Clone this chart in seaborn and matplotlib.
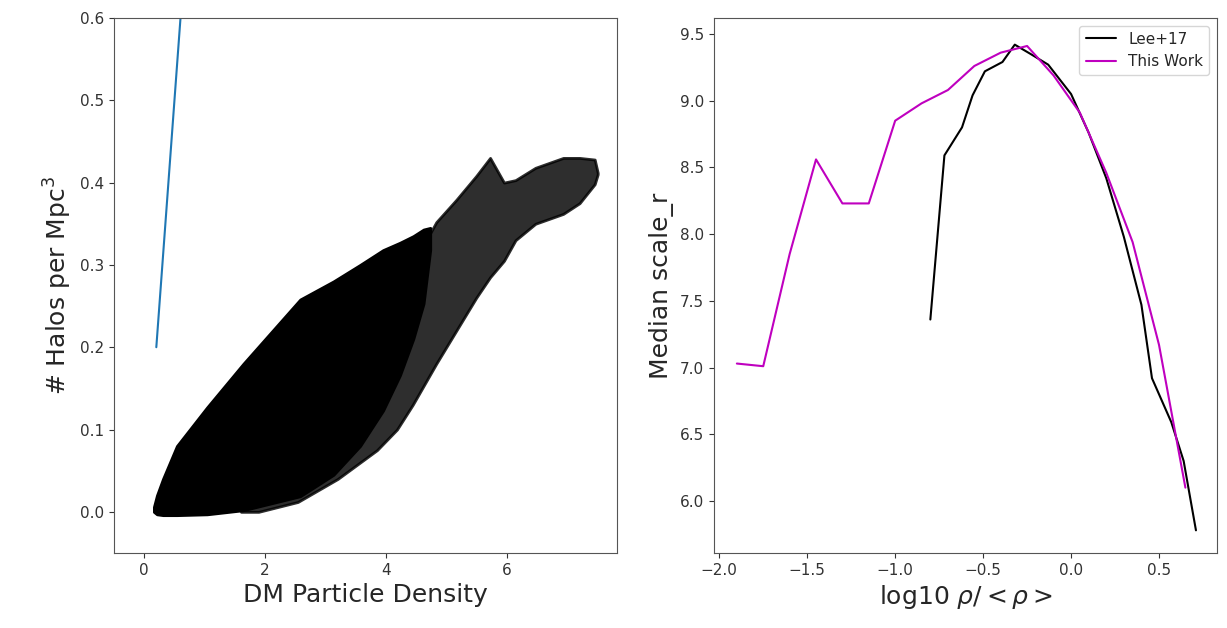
import matplotlib
matplotlib.use("Agg")
import matplotlib.pyplot as plt
import seaborn as sns
import pandas as pd

sns.set_style("ticks")
plt.rcParams["font.family"] = ["DejaVu Sans"]

# Left panel: halo number density vs. DM particle density (point cloud outline)
core_x = [0.16, 0.21, 0.31, 0.54, 1.04, 1.64, 2.58, 3.13, 3.57, 3.95, 4.23, 4.45, 4.62, 4.73]
core_upper = [0.006, 0.020, 0.040, 0.080, 0.127, 0.180, 0.258, 0.280, 0.300, 0.318, 0.327, 0.335, 0.343, 0.345]
core_lower = [0.000, -0.003, -0.004, -0.004, -0.003, 0.002, 0.019, 0.045, 0.080, 0.123, 0.166, 0.210, 0.253, 0.318]

fringe_x = [1.60, 1.89, 2.54, 3.20, 3.85, 4.18, 4.44, 4.83, 5.16, 5.49, 5.72, 5.95, 6.14, 6.47, 6.93, 7.20, 7.45, 7.50]
fringe_upper = [0.010, 0.050, 0.100, 0.150, 0.200, 0.250, 0.300, 0.352, 0.379, 0.408, 0.430, 0.400, 0.403, 0.418, 0.430, 0.430, 0.428, 0.412]
fringe_lower = [0.000, 0.000, 0.012, 0.040, 0.075, 0.100, 0.130, 0.180, 0.220, 0.260, 0.285, 0.305, 0.330, 0.350, 0.362, 0.375, 0.398, 0.410]

# One-to-one reference line
line_x = [0.2, 7.4]
line_y = [0.2, 7.4]

# Right panel: median scale_r vs. log overdensity
work_x = [-1.90, -1.75, -1.60, -1.45, -1.30, -1.15, -1.00, -0.85, -0.70, -0.55,
          -0.40, -0.25, -0.10, 0.05, 0.20, 0.35, 0.50, 0.65]
work_y = [7.03, 7.01, 7.85, 8.56, 8.23, 8.23, 8.85, 8.98, 9.08, 9.26,
          9.36, 9.41, 9.19, 8.91, 8.46, 7.94, 7.17, 6.10]

lee_x = [-0.80, -0.72, -0.62, -0.56, -0.49, -0.39, -0.32, -0.23, -0.13, 0.00,
         0.10, 0.20, 0.30, 0.40, 0.46, 0.57, 0.64, 0.71]
lee_y = [7.36, 8.59, 8.80, 9.04, 9.22, 9.29, 9.42, 9.35, 9.27, 9.05,
         8.76, 8.42, 7.98, 7.47, 6.92, 6.59, 6.30, 5.78]

fig = plt.figure(figsize=(12.27, 6.28), dpi=100)
ax1 = fig.add_axes([0.0929, 0.1194, 0.410, 0.852])
ax2 = fig.add_axes([0.5819, 0.1194, 0.410, 0.852])

ax1.fill_between(fringe_x, fringe_lower, fringe_upper, color="black", alpha=0.82,
                 linewidth=2, edgecolor=(0, 0, 0, 0.35))
ax1.fill_between(core_x, core_lower, core_upper, color="black", linewidth=2, edgecolor="black")
sns.lineplot(x=line_x, y=line_y, ax=ax1, color="#1f77b4", linewidth=1.5)
ax1.set_xlim(-0.5, 7.82)
ax1.set_ylim(-0.05, 0.6)
ax1.set_xticks([0, 2, 4, 6])
ax1.set_xlabel("DM Particle Density", fontsize=18)
ax1.set_ylabel(r"# Halos per Mpc$^3$", fontsize=18)

df = pd.concat([
    pd.DataFrame({"x": lee_x, "y": lee_y, "src": "Lee+17"}),
    pd.DataFrame({"x": work_x, "y": work_y, "src": "This Work"}),
])
sns.lineplot(data=df, x="x", y="y", hue="src", palette={"Lee+17": "black", "This Work": "m"},
             ax=ax2, linewidth=1.5, sort=False)
ax2.set_xlim(-2.03, 0.83)
ax2.set_ylim(5.61, 9.62)
ax2.set_xlabel(r"log10 $\rho/<\rho>$", fontsize=18)
ax2.set_ylabel("Median scale_r", fontsize=18)
ax2.legend(loc="upper right", fontsize=11, title=None)

for ax in (ax1, ax2):
    ax.tick_params(labelsize=11, colors="#333333")
    for s in ax.spines.values():
        s.set_color("#555555")

fig.savefig("out.png", dpi=100)
